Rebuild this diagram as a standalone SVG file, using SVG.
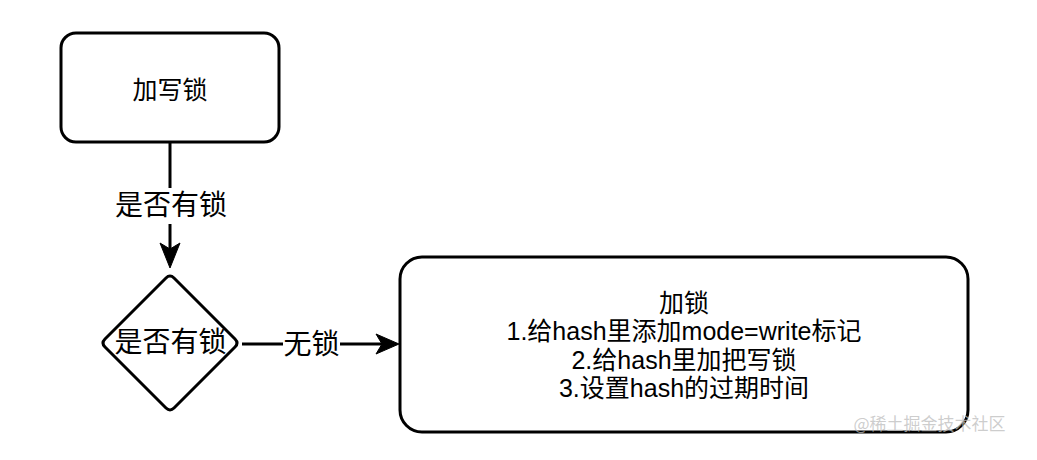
<svg xmlns="http://www.w3.org/2000/svg" width="1037" height="460" viewBox="0 0 1037 460">
  <style>
    .shape { fill: #ffffff; stroke: #000000; stroke-width: 3; }
    .edge { fill: none; stroke: #000000; stroke-width: 3; }
    .head { fill: #000000; stroke: #000000; stroke-width: 1; stroke-linejoin: miter; }
    .t { font-family: "Liberation Sans", "Noto Sans CJK SC", sans-serif; fill: #000000; text-anchor: middle; dominant-baseline: central; }
    .box { font-size: 25px; }
    .lbl { font-size: 28px; }
    .wm { font-family: "Noto Sans CJK SC", sans-serif; font-size: 17px; fill: #bdbdbd; fill-opacity: 0.75; text-anchor: middle; dominant-baseline: central; }
  </style>
  <rect width="1037" height="460" fill="#ffffff"/>

  <g id="connectors">
    <g id="edge-check">
      <line class="edge" x1="170" y1="142" x2="170" y2="188"/>
      <line class="edge" x1="170" y1="224" x2="170" y2="250"/>
      <path class="head" d="M170,268 L160,243 L170,249 L180,243 Z"/>
      <text class="t lbl" x="171" y="205">是否有锁</text>
    </g>
    <g id="edge-nolock">
      <line class="edge" x1="242" y1="344" x2="283" y2="344"/>
      <line class="edge" x1="340" y1="344" x2="382" y2="344"/>
      <path class="head" d="M399,344 L376,334 L382,344 L376,354 Z"/>
      <text class="t lbl" x="311.5" y="344">无锁</text>
    </g>
  </g>

  <g id="node-write-lock">
    <rect class="shape" x="61" y="33" width="218" height="109" rx="15" ry="15"/>
    <text class="t box" x="170" y="90">加写锁</text>
  </g>

  <g id="node-decision">
    <path class="shape" d="M166,278 Q170,274 174,278 L235,339 Q239,343 235,347 L174,408 Q170,412 166,408 L105,347 Q101,343 105,339 Z"/>
    <text class="t lbl" x="170.5" y="342">是否有锁</text>
  </g>

  <g id="node-lock">
    <rect class="shape" x="400" y="257" width="568" height="175" rx="22" ry="22"/>
    <text class="t box" x="684" y="302.5">加锁</text>
    <text class="t box" x="684" y="331">1.给hash里添加mode=write标记</text>
    <text class="t box" x="684" y="359.5">2.给hash里加把写锁</text>
    <text class="t box" x="684" y="388">3.设置hash的过期时间</text>
  </g>

  <text class="wm" x="929.5" y="422">@稀土掘金技术社区</text>
</svg>
